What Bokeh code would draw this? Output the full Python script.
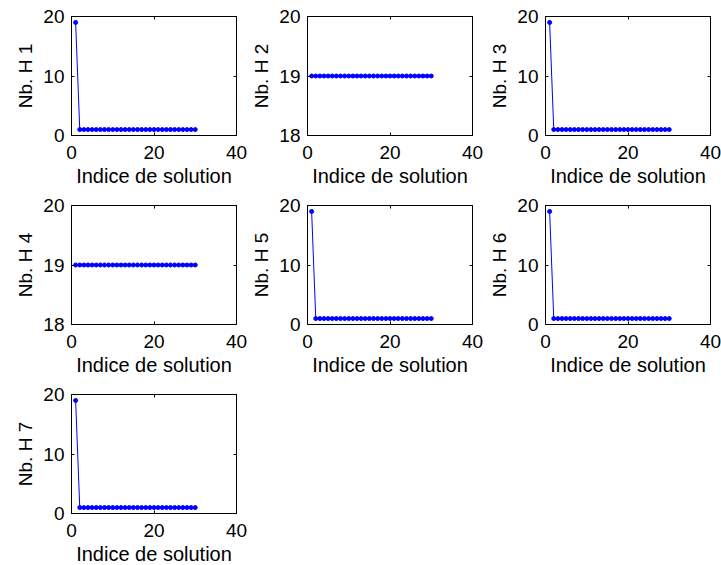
from bokeh.plotting import figure
from bokeh.layouts import gridplot
from bokeh.models import Range1d, FixedTicker, LinearAxis
from bokeh.embed import file_html
from bokeh.resources import INLINE

# ---- data ----
solution_index = [1, 2, 3, 4, 5, 6, 7, 8, 9, 10, 11, 12, 13, 14, 15,
                  16, 17, 18, 19, 20, 21, 22, 23, 24, 25, 26, 27, 28, 29, 30]
h1 = [19, 1, 1, 1, 1, 1, 1, 1, 1, 1, 1, 1, 1, 1, 1, 1, 1, 1, 1, 1, 1, 1, 1, 1, 1, 1, 1, 1, 1, 1]
h2 = [19, 19, 19, 19, 19, 19, 19, 19, 19, 19, 19, 19, 19, 19, 19, 19, 19, 19, 19, 19, 19, 19, 19, 19, 19, 19, 19, 19, 19, 19]
h3 = [19, 1, 1, 1, 1, 1, 1, 1, 1, 1, 1, 1, 1, 1, 1, 1, 1, 1, 1, 1, 1, 1, 1, 1, 1, 1, 1, 1, 1, 1]
h4 = [19, 19, 19, 19, 19, 19, 19, 19, 19, 19, 19, 19, 19, 19, 19, 19, 19, 19, 19, 19, 19, 19, 19, 19, 19, 19, 19, 19, 19, 19]
h5 = [19, 1, 1, 1, 1, 1, 1, 1, 1, 1, 1, 1, 1, 1, 1, 1, 1, 1, 1, 1, 1, 1, 1, 1, 1, 1, 1, 1, 1, 1]
h6 = [19, 1, 1, 1, 1, 1, 1, 1, 1, 1, 1, 1, 1, 1, 1, 1, 1, 1, 1, 1, 1, 1, 1, 1, 1, 1, 1, 1, 1, 1]
h7 = [19, 1, 1, 1, 1, 1, 1, 1, 1, 1, 1, 1, 1, 1, 1, 1, 1, 1, 1, 1, 1, 1, 1, 1, 1, 1, 1, 1, 1, 1]

x_ticks = [0, 20, 40]
y_ticks_drop = [0, 10, 20]
y_ticks_flat = [18, 19, 20]
x_label = "Indice de solution"
y_labels = ["Nb. H 1", "Nb. H 2", "Nb. H 3", "Nb. H 4", "Nb. H 5", "Nb. H 6", "Nb. H 7"]

FONT = "Liberation Sans"
FS = "19px"
FS_XLABEL = "20px"

col_borders = [(71, 11), (60, 13), (60, 11)]
row_borders = [(16, 55), (15, 55), (15, 52)]


def style_axis(ax):
    ax.major_tick_in = 3
    ax.major_tick_out = 0
    ax.minor_tick_in = 0
    ax.minor_tick_out = 0
    ax.axis_line_color = "black"
    ax.major_tick_line_color = "black"


def mirror_axis(ticks):
    ax = LinearAxis(ticker=FixedTicker(ticks=ticks),
                    major_label_overrides={t: "" for t in ticks},
                    major_label_text_font_size="1px",
                    major_label_standoff=0)
    style_axis(ax)
    return ax


def make(ys, ylabel, yticks, yr, row, col):
    left, right = col_borders[col]
    top, bottom = row_borders[row]
    p = figure(frame_width=165, frame_height=119,
               x_range=Range1d(0, 40), y_range=Range1d(*yr),
               output_backend="svg", toolbar_location=None, tools="",
               min_border_left=left, min_border_right=right,
               min_border_top=top, min_border_bottom=bottom)
    p.grid.visible = False
    p.outline_line_color = "black"
    p.outline_line_alpha = 1
    p.background_fill_color = "white"
    p.border_fill_color = "white"

    p.xaxis.ticker = FixedTicker(ticks=x_ticks)
    p.yaxis.ticker = FixedTicker(ticks=yticks)
    for ax in (p.xaxis[0], p.yaxis[0]):
        style_axis(ax)
        ax.major_label_text_font = FONT
        ax.major_label_text_font_size = FS
        ax.major_label_text_color = "black"
        ax.axis_label_text_font = FONT
        ax.axis_label_text_font_size = FS
        ax.axis_label_text_font_style = "normal"
        ax.axis_label_text_color = "black"
    p.xaxis.axis_label = x_label
    p.xaxis.axis_label_text_font_size = FS_XLABEL
    p.yaxis.axis_label = ylabel
    p.xaxis.major_label_standoff = 10
    p.xaxis.axis_label_standoff = 3
    p.yaxis.major_label_standoff = 7
    p.yaxis.axis_label_standoff = 4
    p.yaxis.axis_label_text_line_height = 1.0

    p.add_layout(mirror_axis(x_ticks), "above")
    p.add_layout(mirror_axis(yticks), "right")

    p.line(solution_index, ys, line_color="#0000ff", line_width=1)
    p.scatter(solution_index, ys, size=4, fill_color="#0000ff", line_color="#0000ff")
    return p


series = [h1, h2, h3, h4, h5, h6, h7]
figs = []
for i, ys in enumerate(series):
    row, col = divmod(i, 3)
    flat = min(ys) == max(ys)
    yticks = y_ticks_flat if flat else y_ticks_drop
    yr = (18, 20) if flat else (0, 20)
    figs.append(make(ys, y_labels[i], yticks, yr, row, col))

grid = gridplot([[figs[0], figs[1], figs[2]],
                 [figs[3], figs[4], figs[5]],
                 [figs[6], None, None]], toolbar_location=None)

open("out.html", "w").write(file_html(grid, INLINE))
